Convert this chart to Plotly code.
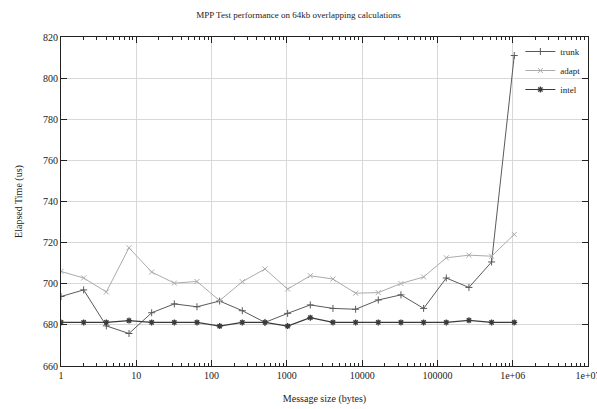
import plotly.graph_objects as go

sizes = [2**i for i in range(21)]
trunk = [693.8, 697.0, 679.5, 675.8, 685.9, 690.2, 688.8, 691.6, 686.9, 681.2, 685.6,
         689.7, 688.0, 687.6, 692.1, 694.6, 688.0, 702.8, 698.2, 710.6, 811.0]
adapt = [706.0, 702.8, 696.0, 717.5, 705.7, 700.3, 701.1, 691.8, 701.0, 707.2, 697.4,
         703.9, 702.3, 695.4, 695.7, 700.1, 703.3, 712.6, 713.9, 713.4, 724.0]
intel = [681.2, 681.2, 681.2, 682.1, 681.2, 681.2, 681.2, 679.4, 681.2, 681.2, 679.4,
         683.5, 681.2, 681.2, 681.2, 681.2, 681.2, 681.2, 682.2, 681.2, 681.2]

x_tickvals = [1, 10, 100, 1000, 10000, 100000, 1e6, 1e7]
x_ticktext = ["1", "10", "100", "1000", "10000", "100000", "1e+06", "1e+07"]
x_minor = [m * 10**k for k in range(7) for m in range(2, 10)]

FONT = "Liberation Serif, Times New Roman, serif"

fig = go.Figure()
fig.add_trace(go.Scatter(x=sizes, y=trunk, name="trunk", mode="lines+markers",
                         line=dict(color="#5a5a5a", width=1),
                         marker=dict(symbol="cross-thin", size=5,
                                     line=dict(color="#5a5a5a", width=1))))
fig.add_trace(go.Scatter(x=sizes, y=adapt, name="adapt", mode="lines+markers",
                         line=dict(color="#ababab", width=1),
                         marker=dict(symbol="x-thin", size=5,
                                     line=dict(color="#ababab", width=1))))
fig.add_trace(go.Scatter(x=sizes, y=intel, name="intel", mode="lines+markers",
                         line=dict(color="#3a3a3a", width=1.2),
                         marker=dict(symbol="asterisk-open", size=5,
                                     line=dict(color="#3a3a3a", width=1.3))))

fig.update_layout(
    width=597, height=409,
    margin=dict(l=61, r=9, t=37, b=43, autoexpand=False),
    paper_bgcolor="white", plot_bgcolor="white",
    font=dict(family=FONT, size=10, color="#222"),
    title=dict(text="MPP Test performance on 64kb overlapping calculations",
               x=0.5, xanchor="center", y=0.963, yanchor="middle",
               font=dict(family=FONT, size=9, color="#222"), automargin=False),
    showlegend=True,
    legend=dict(x=0.995, y=1.0, xanchor="right", yanchor="top",
                bgcolor="rgba(0,0,0,0)", borderwidth=0,
                font=dict(family=FONT, size=9, color="#222"),
                tracegroupgap=0, itemwidth=30),
)
fig.update_xaxes(
    type="log", range=[-0.0001, 7.0001], automargin=False,
    ticklabeloverflow="allow",
    tickmode="array", tickvals=x_tickvals, ticktext=x_ticktext,
    ticks="inside", ticklen=6, tickcolor="#222", tickwidth=1,
    showline=True, linecolor="#222", linewidth=1, mirror="ticks",
    showgrid=True, gridcolor="#d8d8d8", gridwidth=1,
    zeroline=False,
    minor=dict(tickvals=x_minor, ticks="inside", ticklen=3, tickcolor="#222",
               showgrid=False),
    title=dict(text="Message size (bytes)", standoff=14,
               font=dict(family=FONT, size=10, color="#222")),
    tickfont=dict(family=FONT, size=10, color="#222"),
)
fig.update_yaxes(
    range=[660, 820], dtick=20, tick0=660, automargin=False,
    ticks="inside", ticklen=6, tickcolor="#222", tickwidth=1,
    showline=True, linecolor="#222", linewidth=1, mirror="ticks",
    showgrid=True, gridcolor="#d8d8d8", gridwidth=1,
    zeroline=False,
    title=dict(text="Elapsed Time (us)", standoff=18,
               font=dict(family=FONT, size=10, color="#222")),
    tickfont=dict(family=FONT, size=10, color="#222"),
)

fig.write_html("out.html", config={"displayModeBar": False},
               post_script="document.body.style.margin='0';")
